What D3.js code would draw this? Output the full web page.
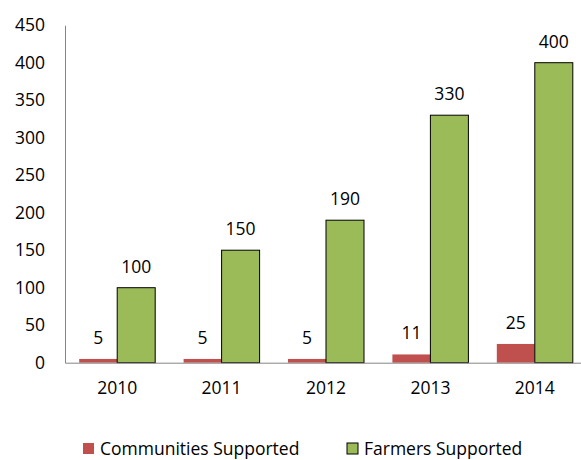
<!DOCTYPE html>
<html>
<head>
<meta charset="utf-8">
<script src="https://cdn.jsdelivr.net/npm/d3@7"></script>
<style>
  body { margin: 0; background: #fff; }
  text { font-family: "Open Sans", sans-serif; fill: #000; }
</style>
</head>
<body>
<div id="chart"></div>
<script>
const years = ["2010", "2011", "2012", "2013", "2014"];
const communities = [5, 5, 5, 11, 25];
const farmers = [100, 150, 190, 330, 400];
const yTicks = [0, 50, 100, 150, 200, 250, 300, 350, 400, 450];
const seriesNames = ["Communities Supported", "Farmers Supported"];
const colors = ["#C0504D", "#9BBB59"];

const width = 581, height = 460;
const plotLeft = 65, plotRight = 587, plotTop = 25.2, plotBottom = 362.7;

const svg = d3.select("#chart")
    .append("svg")
    .attr("width", width)
    .attr("height", height);

const x = d3.scaleBand()
    .domain(years)
    .range([plotLeft, plotRight])
    .paddingInner(0)
    .paddingOuter(0);

const inner = d3.scaleBand()
    .domain([0, 1])
    .range([14.2, x.bandwidth() - 14.2]);

const y = d3.scaleLinear()
    .domain([0, 450])
    .range([plotBottom, plotTop]);

// y axis
const yAxis = svg.append("g")
    .attr("transform", `translate(${plotLeft},0)`)
    .call(d3.axisLeft(y).tickValues(yTicks).tickSize(0).tickPadding(20));
yAxis.select(".domain").attr("stroke", "#868686").attr("stroke-width", 1);
yAxis.selectAll("text").style("font-size", "17.5px").attr("font-family", null);

const data = years.map((yr, i) => ({ year: yr, values: [communities[i], farmers[i]] }));

const groups = svg.selectAll(".grp")
    .data(data)
    .enter()
    .append("g")
    .attr("transform", d => `translate(${x(d.year)},0)`);

groups.selectAll("rect")
    .data(d => d.values.map((v, k) => ({ k: k, v: v })))
    .enter()
    .append("rect")
    .attr("x", d => inner(d.k))
    .attr("y", d => y(d.v))
    .attr("width", inner.bandwidth())
    .attr("height", d => plotBottom - y(d.v))
    .attr("fill", d => colors[d.k])
    .attr("stroke", d => d.k === 1 ? "#000" : "none")
    .attr("stroke-width", 1);

groups.selectAll(".lbl")
    .data(d => d.values.map((v, k) => ({ k: k, v: v })))
    .enter()
    .append("text")
    .attr("x", d => inner(d.k) + inner.bandwidth() / 2)
    .attr("y", d => y(d.v) - 15)
    .attr("text-anchor", "middle")
    .style("font-size", "17.5px")
    .text(d => d.v);

// x axis
const xAxis = svg.append("g")
    .attr("transform", `translate(0,${plotBottom})`)
    .call(d3.axisBottom(x).tickSize(0).tickPadding(19));
xAxis.select(".domain").attr("stroke", "#868686").attr("stroke-width", 1);
xAxis.selectAll("text").style("font-size", "17.5px").attr("font-family", null);

// legend
const legend = svg.append("g");
const legX = [83, 347];
seriesNames.forEach((name, i) => {
    legend.append("rect")
        .attr("x", legX[i])
        .attr("y", 443)
        .attr("width", 11)
        .attr("height", 11)
        .attr("fill", colors[i])
        .attr("stroke", i === 1 ? "#000" : "none")
        .attr("stroke-width", 1);
    legend.append("text")
        .attr("x", legX[i] + 17)
        .attr("y", 455)
        .style("font-size", "17.5px")
        .text(name);
});
</script>
</body>
</html>
